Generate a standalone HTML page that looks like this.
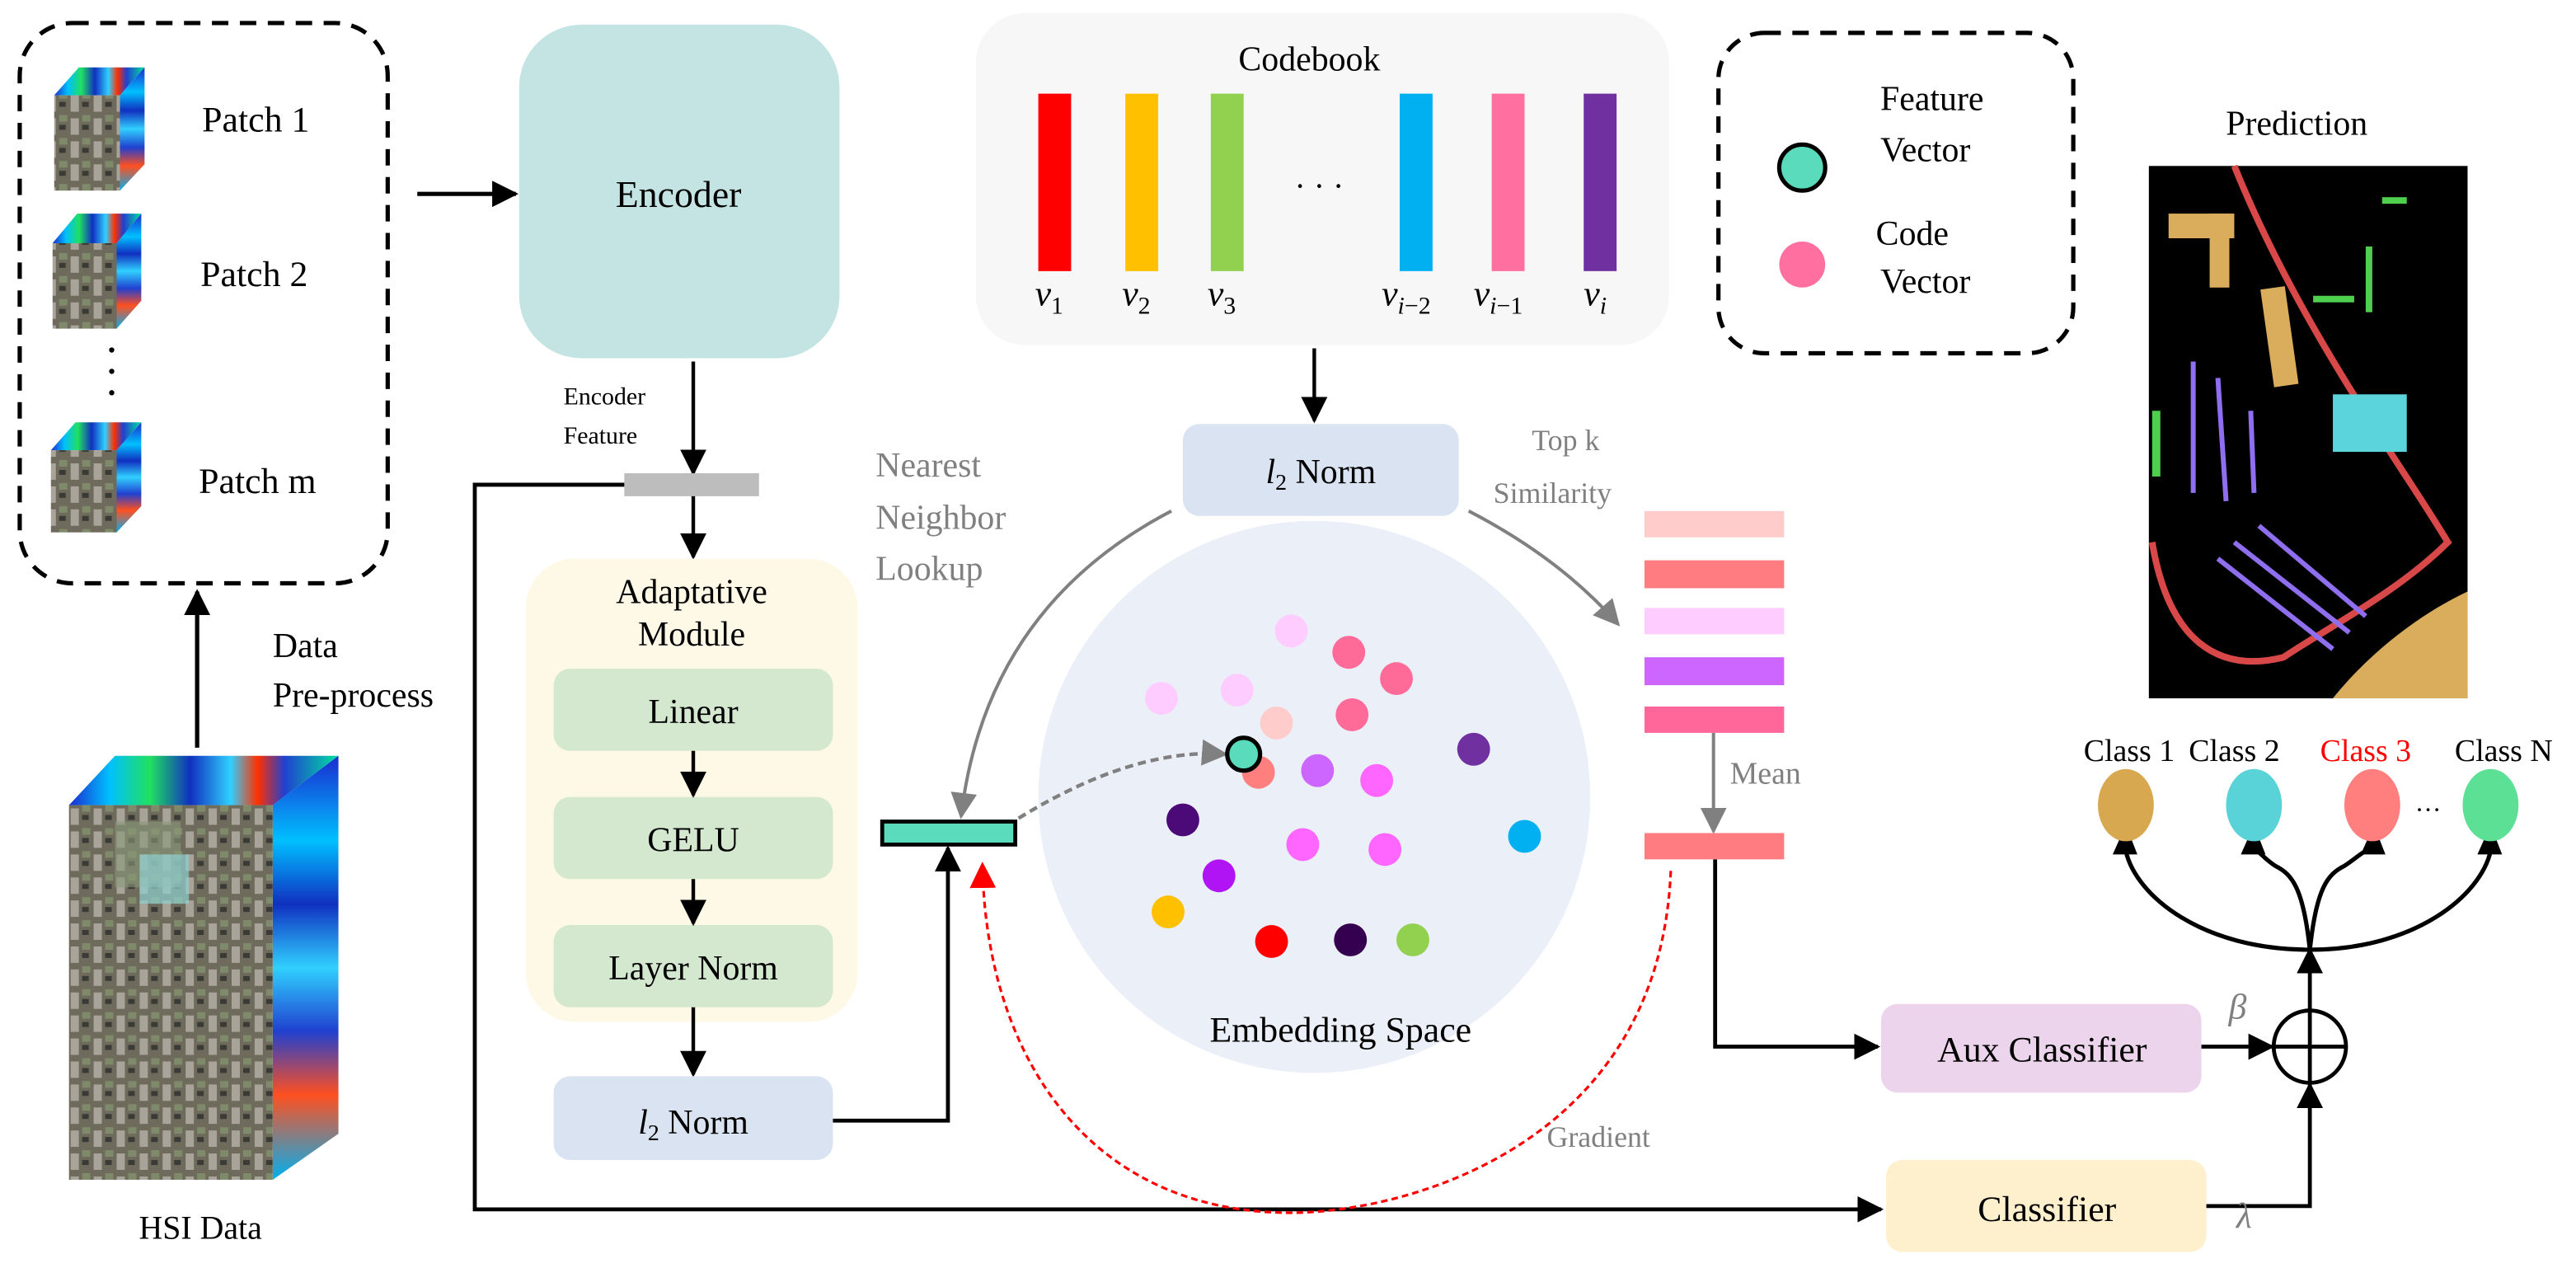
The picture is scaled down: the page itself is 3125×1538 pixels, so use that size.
<!DOCTYPE html>
<html><head><meta charset="utf-8"><style>
html,body{margin:0;padding:0;background:#fff}
svg{display:block}
svg, svg text, svg tspan{font-family:"Liberation Serif","Times New Roman",Times,"Nimbus Roman","DejaVu Serif",serif !important}
</style></head><body>
<svg width="3125" height="1538" viewBox="0 0 1568 771.7" xmlns="http://www.w3.org/2000/svg">
<defs>
<marker id="ag" viewBox="0 0 10 10" refX="9" refY="5" markerWidth="16" markerHeight="16" orient="auto" markerUnits="userSpaceOnUse"><path d="M0,0 L10,5 L0,10 z" fill="#808080"/></marker>
<marker id="ak" viewBox="0 0 10 10" refX="9" refY="5" markerWidth="16" markerHeight="16" orient="auto" markerUnits="userSpaceOnUse"><path d="M0,0 L10,5 L0,10 z" fill="#000"/></marker>
<marker id="ar" viewBox="0 0 10 10" refX="9" refY="5" markerWidth="16" markerHeight="16" orient="auto" markerUnits="userSpaceOnUse"><path d="M0,0 L10,5 L0,10 z" fill="#f00"/></marker>
<linearGradient id="spec" x1="0" y1="0" x2="1" y2="0">
<stop offset="0" stop-color="#1a2bd0"/><stop offset=".15" stop-color="#00c0ff"/><stop offset=".3" stop-color="#20e060"/><stop offset=".45" stop-color="#1030c0"/><stop offset=".6" stop-color="#30d0ff"/><stop offset=".7" stop-color="#ff3000"/><stop offset=".8" stop-color="#2040d0"/><stop offset="1" stop-color="#00e0a0"/>
</linearGradient>
<linearGradient id="specv" x1="0" y1="0" x2="0" y2="1">
<stop offset="0" stop-color="#1a2bd0"/><stop offset=".2" stop-color="#00c0ff"/><stop offset=".35" stop-color="#1030c0"/><stop offset=".5" stop-color="#30d0ff"/><stop offset=".65" stop-color="#2040d0"/><stop offset=".8" stop-color="#ff5020"/><stop offset="1" stop-color="#00b0f0"/>
</linearGradient>
<pattern id="city" width="14" height="14" patternUnits="userSpaceOnUse">
<rect width="14" height="14" fill="#6e6a5c"/><rect x="1" y="2" width="5" height="10" fill="#a8a49a"/><rect x="8" y="6" width="4" height="3" fill="#3a3a36"/><rect x="8" y="0" width="5" height="4" fill="#7f8a6a"/>
</pattern>
</defs>

<rect x="12" y="14" width="224" height="341" rx="32" fill="none" stroke="#000" stroke-width="2.6" stroke-dasharray="10,7"/>
<g>
<polygon points="33,58 48,41 88,41 73,58" fill="url(#spec)"/><polygon points="73,58 88,41 88,100 73,116" fill="url(#specv)"/><rect x="33" y="58" width="40" height="58" fill="url(#city)"/>
<polygon points="32,148 47,130 86,130 71,148" fill="url(#spec)"/><polygon points="71,148 86,130 86,183 71,200" fill="url(#specv)"/><rect x="32" y="148" width="39" height="52" fill="url(#city)"/>
<polygon points="31,274 46,257 86,257 71,274" fill="url(#spec)"/><polygon points="71,274 86,257 86,308 71,324" fill="url(#specv)"/><rect x="31" y="274" width="40" height="50" fill="url(#city)"/>
<circle cx="68" cy="213" r="1.6" fill="#000"/><circle cx="68" cy="226" r="1.6" fill="#000"/><circle cx="68" cy="239" r="1.6" fill="#000"/>
</g>
<text x="123" y="80" font-size="22">Patch 1</text>
<text x="122" y="174" font-size="22">Patch 2</text>
<text x="121" y="300" font-size="22">Patch m</text>

<polygon points="42,490 70,460 206,460 166,490" fill="url(#spec)"/>
<polygon points="166,490 206,460 206,690 166,718" fill="url(#specv)"/>
<rect x="42" y="490" width="124" height="228" fill="url(#city)"/>
<rect x="70" y="500" width="40" height="40" fill="#8a9a7a" opacity=".6"/>
<rect x="85" y="520" width="30" height="30" fill="#8fd0d0" opacity=".7"/>
<text x="122" y="754" font-size="20" text-anchor="middle">HSI Data</text>

<line x1="120" y1="455" x2="120" y2="360" stroke="#000" stroke-width="2.6" marker-end="url(#ak)"/>
<text x="166" y="400" font-size="21">Data</text>
<text x="166" y="430" font-size="21">Pre-process</text>

<line x1="254" y1="118" x2="314" y2="118" stroke="#000" stroke-width="2.6" marker-end="url(#ak)"/>
<rect x="316" y="15" width="195" height="203" rx="38" fill="#c3e4e2"/>
<text x="413" y="126" font-size="23" text-anchor="middle">Encoder</text>

<text x="343" y="246" font-size="15">Encoder</text>
<text x="343" y="270" font-size="15">Feature</text>
<line x1="422" y1="220" x2="422" y2="288" stroke="#000" stroke-width="2.2" marker-end="url(#ak)"/>
<rect x="380" y="288" width="82" height="14" fill="#bdbdbd"/>
<polyline points="380,295 289,295 289,736 1145,736" fill="none" stroke="#000" stroke-width="2.4" marker-end="url(#ak)"/>
<line x1="422" y1="302" x2="422" y2="339" stroke="#000" stroke-width="2.2" marker-end="url(#ak)"/>

<rect x="320" y="340" width="202" height="282" rx="30" fill="#fef8e6"/>
<text x="421" y="367" font-size="21" text-anchor="middle">Adaptative</text>
<text x="421" y="393" font-size="21" text-anchor="middle">Module</text>
<rect x="337" y="407" width="170" height="50" rx="10" fill="#d4e8d0"/>
<text x="422" y="440" font-size="21" text-anchor="middle">Linear</text>
<rect x="337" y="485" width="170" height="50" rx="10" fill="#d4e8d0"/>
<text x="422" y="518" font-size="21" text-anchor="middle">GELU</text>
<rect x="337" y="563" width="170" height="50" rx="10" fill="#d4e8d0"/>
<text x="422" y="596" font-size="21" text-anchor="middle">Layer Norm</text>
<line x1="422" y1="457" x2="422" y2="484" stroke="#000" stroke-width="2.2" marker-end="url(#ak)"/>
<line x1="422" y1="535" x2="422" y2="562" stroke="#000" stroke-width="2.2" marker-end="url(#ak)"/>
<line x1="422" y1="613" x2="422" y2="654" stroke="#000" stroke-width="2.2" marker-end="url(#ak)"/>
<rect x="337" y="655" width="170" height="51" rx="10" fill="#dae3f1"/>
<text x="422" y="690" font-size="21" text-anchor="middle"><tspan font-style="italic">l</tspan><tspan font-size="14" dy="4">2</tspan><tspan dy="-4"> Norm</tspan></text>
<polyline points="507,682 577,682 577,516" fill="none" stroke="#000" stroke-width="2.4" marker-end="url(#ak)"/>

<ellipse cx="800" cy="485" rx="168" ry="168" fill="#ebeff8"/>
<text x="816" y="634" font-size="22" text-anchor="middle">Embedding Space</text>
<g>
<circle cx="786" cy="384" r="10" fill="#ffccff"/>
<circle cx="707" cy="425" r="10" fill="#ffccff"/>
<circle cx="753" cy="420" r="10" fill="#ffccff"/>
<circle cx="821" cy="397" r="10" fill="#ff6b99"/>
<circle cx="850" cy="413" r="10" fill="#ff6b99"/>
<circle cx="823" cy="435" r="10" fill="#ff6b99"/>
<circle cx="777" cy="440" r="10" fill="#ffcccc"/>
<circle cx="766" cy="470" r="10" fill="#ff7f7f"/>
<circle cx="802" cy="469" r="10" fill="#cc66ff"/>
<circle cx="838" cy="475" r="10" fill="#ff66ff"/>
<circle cx="897" cy="456" r="10" fill="#7030a0"/>
<circle cx="720" cy="499" r="10" fill="#4b0a78"/>
<circle cx="793" cy="514" r="10" fill="#ff66ff"/>
<circle cx="843" cy="517" r="10" fill="#ff66ff"/>
<circle cx="928" cy="509" r="10" fill="#00b0f0"/>
<circle cx="742" cy="533" r="10" fill="#b014f5"/>
<circle cx="711" cy="555" r="10" fill="#ffc000"/>
<circle cx="774" cy="573" r="10" fill="#ff0000"/>
<circle cx="822" cy="572" r="10" fill="#35004f"/>
<circle cx="860" cy="572" r="10" fill="#92d050"/>
</g>
<rect x="537" y="500" width="81" height="14" fill="#5adcbc" stroke="#000" stroke-width="2.4"/>
<path d="M620,498 Q690,455 746,459" fill="none" stroke="#808080" stroke-width="2.2" stroke-dasharray="5,3" marker-end="url(#ag)"/>
<circle cx="757" cy="459" r="10" fill="#5adcbc" stroke="#000" stroke-width="2.6"/>

<rect x="594" y="8" width="422" height="202" rx="30" fill="#f7f7f7"/>
<text x="797" y="43" font-size="21" text-anchor="middle">Codebook</text>
<rect x="632" y="57" width="20" height="108" fill="#ff0000"/>
<rect x="685" y="57" width="20" height="108" fill="#ffc000"/>
<rect x="737" y="57" width="20" height="108" fill="#92d050"/>
<text x="803" y="120" font-size="20" text-anchor="middle">· · ·</text>
<rect x="852" y="57" width="20" height="108" fill="#00b0f0"/>
<rect x="908" y="57" width="20" height="108" fill="#ff6f9f"/>
<rect x="964" y="57" width="20" height="108" fill="#7030a0"/>
<g font-size="22" font-style="italic">
<text x="630" y="186">v<tspan font-size="15" font-style="normal" dy="5">1</tspan></text>
<text x="683" y="186">v<tspan font-size="15" font-style="normal" dy="5">2</tspan></text>
<text x="735" y="186">v<tspan font-size="15" font-style="normal" dy="5">3</tspan></text>
<text x="841" y="186">v<tspan font-size="15" dy="5">i</tspan><tspan font-size="15" font-style="normal">−2</tspan></text>
<text x="897" y="186">v<tspan font-size="15" dy="5">i</tspan><tspan font-size="15" font-style="normal">−1</tspan></text>
<text x="964" y="186">v<tspan font-size="15" dy="5">i</tspan></text>
</g>
<line x1="800" y1="212" x2="800" y2="256" stroke="#000" stroke-width="2.2" marker-end="url(#ak)"/>
<rect x="720" y="258" width="168" height="56" rx="10" fill="#dae3f1"/>
<text x="804" y="294" font-size="21" text-anchor="middle"><tspan font-style="italic">l</tspan><tspan font-size="14" dy="4">2</tspan><tspan dy="-4"> Norm</tspan></text>
<path d="M713,311 Q600,370 585,497" fill="none" stroke="#808080" stroke-width="2" marker-end="url(#ag)"/>
<path d="M894,311 Q950,340 985,380" fill="none" stroke="#808080" stroke-width="2" marker-end="url(#ag)"/>
<g fill="#808080" font-size="21">
<text x="533" y="290">Nearest</text>
<text x="533" y="322">Neighbor</text>
<text x="533" y="353">Lookup</text>
</g>
<text x="953" y="274" font-size="18" fill="#808080" text-anchor="middle">Top k</text>
<text x="945" y="306" font-size="18" fill="#808080" text-anchor="middle">Similarity</text>

<rect x="1001" y="311" width="85" height="16" fill="#ffcccc"/>
<rect x="1001" y="341" width="85" height="17" fill="#ff7c80"/>
<rect x="1001" y="370" width="85" height="16" fill="#ffccff"/>
<rect x="1001" y="400" width="85" height="17" fill="#cc66ff"/>
<rect x="1001" y="430" width="85" height="16" fill="#ff6699"/>
<line x1="1043" y1="446" x2="1043" y2="506" stroke="#808080" stroke-width="2" marker-end="url(#ag)"/>
<text x="1053" y="477" font-size="19" fill="#808080">Mean</text>
<rect x="1001" y="507" width="85" height="16" fill="#ff7c80"/>
<polyline points="1044,523 1044,637 1143,637" fill="none" stroke="#000" stroke-width="2.4" marker-end="url(#ak)"/>

<path d="M1017,530 C1010,700 850,740 780,738 C660,735 600,640 598,526" fill="none" stroke="#f00" stroke-width="1.6" stroke-dasharray="4,2.5" marker-end="url(#ar)"/>
<text x="973" y="698" font-size="18" fill="#808080" text-anchor="middle">Gradient</text>

<rect x="1145" y="611" width="195" height="54" rx="10" fill="#ecd5ec"/>
<text x="1243" y="646" font-size="22" text-anchor="middle">Aux Classifier</text>
<rect x="1148" y="706" width="195" height="56" rx="10" fill="#fff0cd"/>
<text x="1246" y="743" font-size="22" text-anchor="middle">Classifier</text>
<line x1="1340" y1="637" x2="1383" y2="637" stroke="#000" stroke-width="2.4" marker-end="url(#ak)"/>
<polyline points="1343,734 1406,734 1406,660" fill="none" stroke="#000" stroke-width="2.4" marker-end="url(#ak)"/>
<ellipse cx="1406" cy="637" rx="22" ry="22" fill="none" stroke="#000" stroke-width="2.4"/>
<line x1="1384" y1="637" x2="1428" y2="637" stroke="#000" stroke-width="2.4"/>
<line x1="1406" y1="615" x2="1406" y2="659" stroke="#000" stroke-width="2.4"/>
<text x="1362" y="620" font-size="22" font-style="italic" fill="#808080" text-anchor="middle">β</text>
<text x="1366" y="747" font-size="22" font-style="italic" fill="#808080" text-anchor="middle">λ</text>
<line x1="1406" y1="615" x2="1406" y2="578" stroke="#000" stroke-width="2.4" marker-end="url(#ak)"/>
<g fill="none" stroke="#000" stroke-width="2.6">
<path d="M1406,578 C1340,578 1300,545 1294,518"/>
<path d="M1406,578 C1402,540 1395,532 1385,527 C1377,522 1373,515 1372,518"/>
<path d="M1406,578 C1410,540 1417,532 1427,527 C1435,522 1441,515 1444,518"/>
<path d="M1406,578 C1470,578 1510,545 1516,518"/>
</g>
<g fill="#000">
<polygon points="1286,520 1294,502 1301,520"/>
<polygon points="1364,520 1372,502 1379,520"/>
<polygon points="1437,520 1445,502 1452,520"/>
<polygon points="1508,520 1516,502 1523,520"/>
</g>
<ellipse cx="1294" cy="490" rx="17" ry="22" fill="#d8a851"/>
<ellipse cx="1372" cy="490" rx="17" ry="22" fill="#59d3d8"/>
<ellipse cx="1444" cy="490" rx="17" ry="22" fill="#ff7f7f"/>
<ellipse cx="1516" cy="490" rx="17" ry="22" fill="#5be095"/>
<text x="1478" y="498" font-size="16" text-anchor="middle">···</text>
<g font-size="19" text-anchor="middle">
<text x="1296" y="463">Class 1</text>
<text x="1360" y="463">Class 2</text>
<text x="1440" y="463" fill="#f00">Class 3</text>
<text x="1524" y="463">Class N</text>
</g>

<text x="1398" y="82" font-size="21" text-anchor="middle">Prediction</text>
<rect x="1308" y="101" width="194" height="324" fill="#000"/>
<path d="M1420,425 C1440,400 1470,375 1502,360 L1502,425 Z" fill="#d9ad5b"/>
<path d="M1360,101 C1400,200 1460,280 1490,330 C1460,360 1420,380 1390,400 C1350,410 1320,390 1310,330" fill="none" stroke="#d84848" stroke-width="4"/>
<rect x="1320" y="130" width="40" height="15" fill="#d9ad5b"/>
<rect x="1345" y="130" width="12" height="45" fill="#d9ad5b"/>
<rect x="1380" y="175" width="15" height="60" fill="#d9ad5b" transform="rotate(-8 1387 205)"/>
<rect x="1420" y="240" width="45" height="35" fill="#5cd4dc"/>
<g stroke="#8f6ef0" stroke-width="3">
<line x1="1335" y1="220" x2="1335" y2="300"/><line x1="1350" y1="230" x2="1355" y2="305"/><line x1="1370" y1="250" x2="1372" y2="300"/>
<line x1="1350" y1="340" x2="1420" y2="395"/><line x1="1360" y1="330" x2="1430" y2="385"/><line x1="1375" y1="320" x2="1440" y2="375"/>
</g>
<g fill="#4ecf4e">
<rect x="1408" y="180" width="25" height="4"/><rect x="1440" y="150" width="4" height="40"/><rect x="1310" y="250" width="5" height="40"/><rect x="1450" y="120" width="15" height="4"/>
</g>

<rect x="1046" y="20" width="216" height="195" rx="28" fill="none" stroke="#000" stroke-width="2.6" stroke-dasharray="10,7"/>
<circle cx="1097" cy="102" r="14" fill="#5adcbc" stroke="#000" stroke-width="2.6"/>
<text x="1176" y="67" font-size="21" text-anchor="middle">Feature</text>
<text x="1172" y="98" font-size="21" text-anchor="middle">Vector</text>
<circle cx="1097" cy="161" r="14" fill="#ff6f9f"/>
<text x="1164" y="149" font-size="21" text-anchor="middle">Code</text>
<text x="1172" y="178" font-size="21" text-anchor="middle">Vector</text>
</svg>
</body></html>
